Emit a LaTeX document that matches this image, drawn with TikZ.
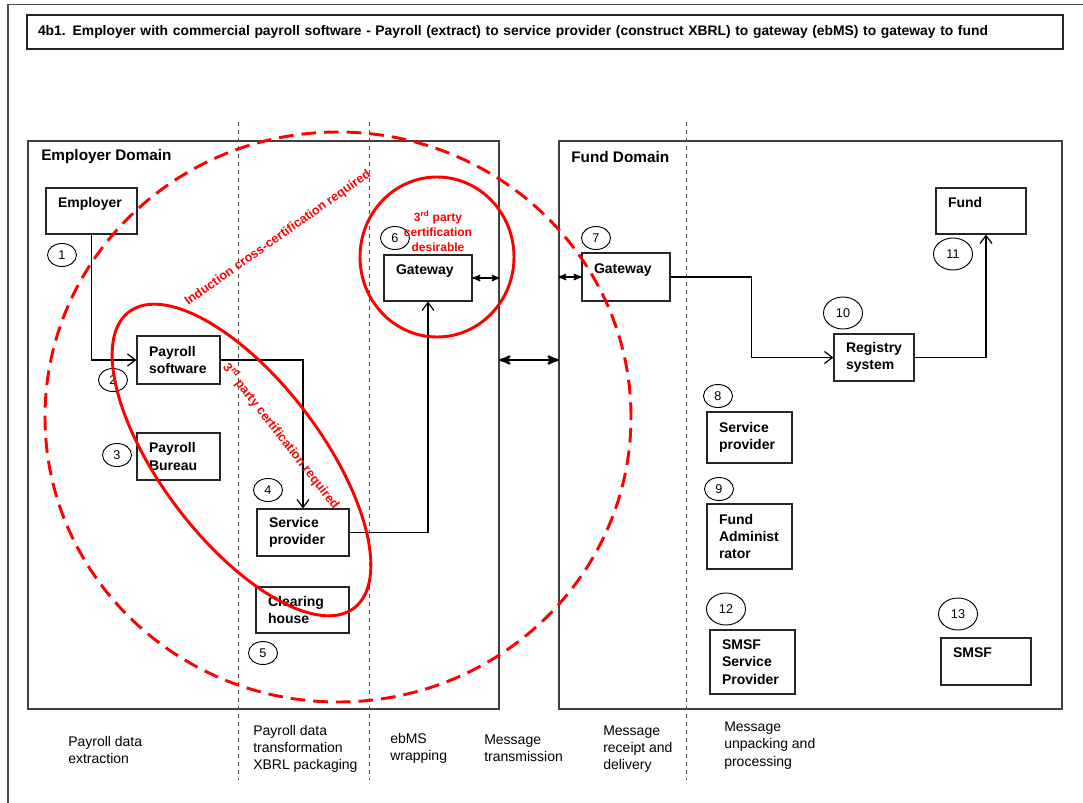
\documentclass[tikz,border=0pt]{standalone}
\usepackage{fontspec}
\setmainfont{Liberation Sans}
\usetikzlibrary{positioning,shapes,arrows,arrows.meta}

\begin{document}
\begin{tikzpicture}[x=0.75pt,y=-0.75pt,>=stealth',
  unit/.style={draw=black!85,line width=0.8pt,align=left,inner xsep=9pt,inner ysep=0pt,
    font=\fontsize{10.5}{13}\selectfont\bfseries},
  dombox/.style={draw=black!75,line width=0.8pt,inner sep=0pt},
  num/.style={draw,ellipse,line width=0.7pt,minimum width=21.75pt,minimum height=17.25pt,
    inner sep=0pt,font=\fontsize{9.5}{11}\selectfont},
  bignum/.style={num,minimum width=29.25pt,minimum height=24pt},
  flow/.style={line width=0.9pt,-{Straight Barb[length=6pt,width=9pt]}},
  link/.style={line width=1.1pt,<->},
  phase/.style={dashed,black!70,line width=0.6pt},
  stage/.style={align=left,anchor=west,inner sep=0pt,font=\fontsize{10.5}{13}\selectfont},
  cert/.style={red,font=\fontsize{9.5}{11}\selectfont\bfseries,inner sep=0pt},
  ring/.style={red,line width=2.2pt}]
  \useasboundingbox (0,0) rectangle (1083,803);
  \draw[black!70,line width=0.8pt] (8,803) -- (8,4.5) -- (1083,4.5);

  % title
  \node[draw=black!85,line width=0.8pt,text width=760.5pt,inner xsep=8.25pt,
    minimum height=25.5pt,align=left,font=\fontsize{10.4}{12}\selectfont\bfseries]
    (title) at (545,32)
    {4b1. Employer with commercial payroll software - Payroll (extract) to service provider (construct XBRL) to gateway (ebMS) to gateway to fund};

  % domains
  \node[dombox,minimum width=353.25pt,minimum height=426pt] (ed) at (263.5,425) {};
  \node[dombox,minimum width=377.25pt,minimum height=426pt] (fd) at (810.5,425) {};
  \node[anchor=west,inner sep=0pt,font=\fontsize{11.5}{13}\selectfont\bfseries] (edl) at (41,157) {Employer Domain};
  \node[anchor=west,inner sep=0pt,font=\fontsize{11.5}{13}\selectfont\bfseries] (fdl) at (571,157) {Fund Domain};

  % processing phases
  \draw[phase] (238,122) -- (238,780);
  \draw[phase] (369,122) -- (369,780);
  \draw[phase] (686,122) -- (686,780);

  % employer side
  \node[unit,text width=50.25pt,minimum height=34.5pt] (b1) at (91.5,211) {Employer\\~};
  \node[unit,text width=44.25pt,minimum height=36pt] (b2) at (178.5,360) {Payroll\\software};
  \node[unit,text width=44.25pt,minimum height=35.25pt] (b3) at (178.5,456.5) {Payroll\\Bureau};
  \node[unit,text width=51pt,minimum height=35.25pt] (b4) at (303,532.5) {Service\\provider};
  \node[unit,text width=51.75pt,minimum height=34.5pt] (b5) at (302.5,610) {Clearing\\house};
  \node[unit,text width=48pt,minimum height=34.5pt] (b6) at (428,278) {Gateway\\~};

  % fund side
  \node[unit,text width=48pt,minimum height=36pt] (b7) at (626,277) {Gateway\\~};
  \node[unit,text width=45.75pt,minimum height=38.25pt] (b8) at (749.5,437.5) {Service\\provider};
  \node[unit,text width=45.75pt,minimum height=48.75pt] (b9) at (749.5,536.5) {Fund\\Administ\\rator};
  \node[unit,text width=42pt,minimum height=35.25pt] (b10) at (874,357.5) {Registry\\system};
  \node[unit,text width=49.5pt,minimum height=34.5pt] (b11) at (981,211) {Fund\\~};
  \node[unit,text width=45.75pt,minimum height=48pt] (b12) at (752.5,662) {SMSF\\Service\\Provider};
  \node[unit,text width=49.5pt,minimum height=35.25pt] (b13) at (986,661.5) {SMSF\\~};

  % numbers
  \node[num] (n1) at (62,255) {1};
  \node[num] (n2) at (113,380) {2};
  \node[num] (n3) at (117,455) {3};
  \node[num] (n4) at (268,490) {4};
  \node[num] (n5) at (263,653) {5};
  \node[num] (n6) at (395,238) {6};
  \node[num] (n7) at (596,238) {7};
  \node[num] (n8) at (718,396) {8};
  \node[num] (n9) at (719,489) {9};
  \node[bignum] (n10) at (843,313) {10};
  \node[bignum] (n11) at (953,254) {11};
  \node[bignum] (n12) at (726,609) {12};
  \node[bignum] (n13) at (958,614) {13};

  % message flow
  \draw[flow] (b1.south) |- (b2.west);
  \draw[flow] (b2.east) -| (b4.north);
  \draw[flow] (b4.east) -| (b6.south);
  \draw[link] (b6.east) -- (b6.east -| ed.east);
  \draw[link,line width=1.8pt] (ed.east |- b2.east) -- (fd.west |- b2.east);
  \draw[link] (fd.west |- b7.west) -- (b7.west);
  \draw[flow] (b7.east) -- ++(81,0) |- (b10.west);
  \draw[flow] (b10.east) -| ([xshift=3.75pt]b11.south);

  % phase captions
  \node[stage] (s1) at (68,750) {Payroll data\\extraction};
  \node[stage] (s2) at (253,749) {Payroll data\\transformation\\XBRL packaging};
  \node[stage] (s3) at (390,748.5) {ebMS\\wrapping};
  \node[stage] (s4) at (484,748.5) {Message\\transmission};
  \node[stage] (s5) at (603,749) {Message\\receipt and\\delivery};
  \node[stage] (s6) at (724,745.5) {Message\\unpacking and\\processing};

  % certification zones
  \draw[ring,dash pattern=on 11pt off 6pt] (338,417) ellipse [x radius=219.75pt, y radius=213.75pt];
  \draw[ring] (437,257) ellipse [x radius=57.75pt, y radius=60pt];
  \draw[ring,rotate around={-52.75:(241.5,460)}] (241.5,460) ellipse [x radius=139.5pt, y radius=60pt];
  \node[cert,rotate=35.3] (t1) at (278,238) {Induction cross-certification required};
  \node[cert,rotate=-52] (t2) at (281.5,436) {3\textsuperscript{rd} party certification required};
  \node[cert,align=center,font=\fontsize{9}{11.25}\selectfont\bfseries] (t3) at (438,231)
    {3\textsuperscript{rd} party\\certification\\desirable};
\end{tikzpicture}
\end{document}
